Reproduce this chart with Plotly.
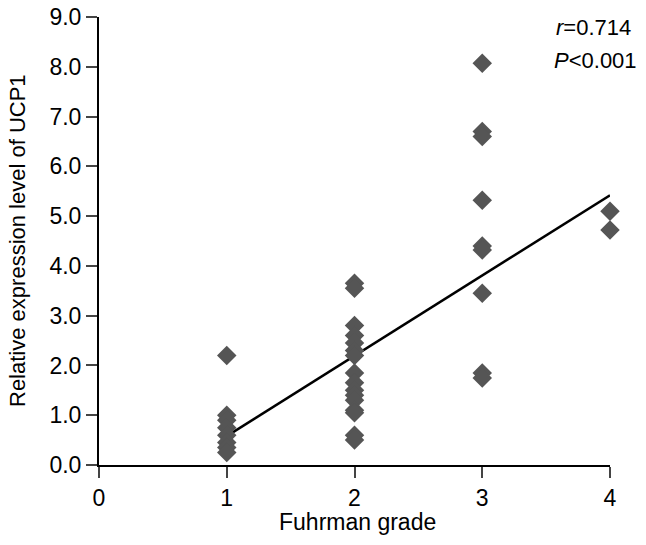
import plotly.graph_objects as go

grade1 = [2.2, 1.0, 0.9, 0.75, 0.6, 0.45, 0.35, 0.25]
grade2 = [3.65, 3.55, 2.8, 2.6, 2.45, 2.3, 2.2, 1.85, 1.65, 1.5, 1.4, 1.3, 1.1, 1.05, 0.6, 0.5]
grade3 = [8.07, 6.7, 6.6, 5.32, 4.4, 4.32, 3.45, 1.85, 1.75]
grade4 = [5.1, 4.72]
fit_x = [1, 4]
fit_y = [0.58, 5.42]
x_ticks = [0, 1, 2, 3, 4]
y_ticks = [0, 1, 2, 3, 4, 5, 6, 7, 8, 9]

xs, ys = [], []
for g, vals in zip([1, 2, 3, 4], [grade1, grade2, grade3, grade4]):
    xs += [g] * len(vals)
    ys += vals

font = "Liberation Sans, Arial, Helvetica, sans-serif"
FS = 22
TFS = 23
fig = go.Figure()
fig.add_trace(go.Scatter(x=fit_x, y=fit_y, mode="lines",
                         line=dict(color="black", width=2.5), cliponaxis=False))
fig.add_trace(go.Scatter(x=xs, y=ys, mode="markers", cliponaxis=False,
                         marker=dict(symbol="diamond", size=15, color="#555555",
                                     line=dict(width=0))))

fig.add_annotation(x=1, y=1, xref="paper", yref="paper", xanchor="right", yanchor="middle",
                   xshift=23, yshift=-10, text="<i>r</i>=0.714", showarrow=False,
                   font=dict(size=FS, color="black", family=font))
fig.add_annotation(x=1, y=1, xref="paper", yref="paper", xanchor="right", yanchor="middle",
                   xshift=29, yshift=-43, text="<i>P</i><0.001", showarrow=False,
                   font=dict(size=FS, color="black", family=font))
# axis titles
fig.add_annotation(x=0.5, y=0, xref="paper", yref="paper", xanchor="center", yanchor="middle",
                   xshift=3, yshift=-57, text="Fuhrman grade", showarrow=False,
                   font=dict(size=TFS, color="black", family=font))
fig.add_annotation(x=0, y=0.5, xref="paper", yref="paper", xanchor="center", yanchor="middle",
                   xshift=-82, textangle=-90, text="Relative expression level of UCP1",
                   showarrow=False, font=dict(size=FS, color="black", family=font))

fig.update_layout(
    width=646, height=545, showlegend=False,
    paper_bgcolor="white", plot_bgcolor="white",
    margin=dict(l=99, r=36, t=17, b=80),
    font=dict(family=font, size=FS, color="black"),
    xaxis=dict(range=[0, 4], tickvals=x_ticks, ticks="outside", ticklen=11, tickwidth=2,
               showline=True, linecolor="black", linewidth=2, showgrid=False, zeroline=False,
               automargin=False, tickfont=dict(size=TFS)),
    yaxis=dict(range=[0, 9], tickvals=y_ticks, tickformat=".1f", ticks="outside", ticklen=11,
               tickwidth=2, showline=True, linecolor="black", linewidth=2, showgrid=False,
               zeroline=False, automargin=False, tickfont=dict(size=TFS)),
)
fig.write_html("out.html", config={"displayModeBar": False},
               post_script="document.body.style.margin='0';document.body.style.padding='0';")
